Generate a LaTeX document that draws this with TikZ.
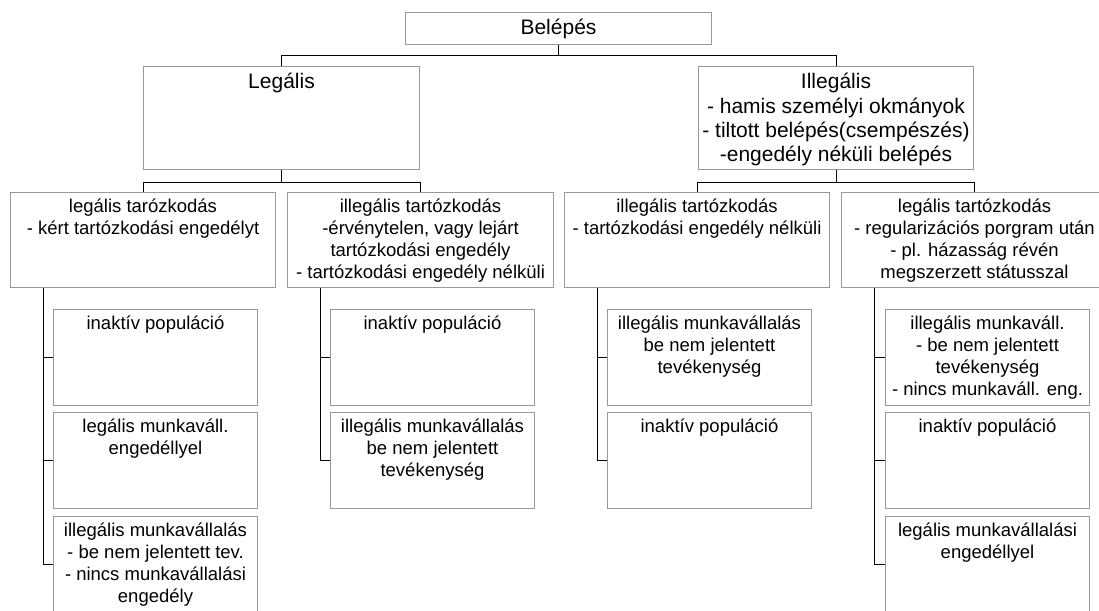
\documentclass[tikz,border=0pt]{standalone}
\usepackage{fontspec}
\setmainfont{Liberation Sans}
\usepackage{tikz}
\definecolor{boxgray}{rgb}{0.6, 0.6, 0.6}

\begin{document}
\begin{tikzpicture}[x=1pt, y=-1pt,
		box/.style={draw=boxgray, line width=1pt, anchor=north west, inner sep=0pt},
		big/.style={font=\fontsize{21}{24.4}\selectfont},
		txt/.style={anchor=north, align=center, inner sep=7pt, font=\fontsize{18.5}{21.8}\selectfont},
		bigtxt/.style={txt, inner sep=7pt, big},
		link/.style={black, line width=1pt}]
		\useasboundingbox (0,0) rectangle (1099,610);
		\clip (0,0) rectangle (1099,610);
		% level 1 and 2
		\node[box, big, minimum width=306pt, minimum height=32pt] (belepes) at (405,12) {Belépés};
		\node[box, minimum width=276pt, minimum height=103pt, label={[bigtxt]north:{Legális}}] (legalis) at (143,66) {};
		\node[box, minimum width=275pt, minimum height=103pt, label={[bigtxt]north:{Illegális\\- hamis személyi okmányok\\- tiltott belépés(csempészés)\\-engedély néküli belépés}}] (illegalis) at (698,66) {};
		% level 3
		\node[box, minimum width=265pt, minimum height=95pt, label={[txt]north:{legális tarózkodás\\- kért tartózkodási engedélyt}}] (ltart1) at (10,192) {};
		\node[box, minimum width=266pt, minimum height=95pt, label={[txt]north:{illegális tartózkodás\\-érvénytelen, vagy lejárt\\tartózkodási engedély\\- tartózkodási engedély nélküli}}] (itart1) at (287,192) {};
		\node[box, minimum width=265pt, minimum height=95pt, label={[txt]north:{illegális tartózkodás\\- tartózkodási engedély nélküli}}] (itart2) at (564,192) {};
		\node[box, minimum width=266pt, minimum height=95pt, label={[txt]north:{legális tartózkodás\\- regularizációs porgram után\\- pl. házasság révén\\megszerzett státusszal}}] (ltart2) at (841,192) {};
		% level 4
		\tikzset{small/.style={box, minimum width=204pt, minimum height=96pt}}
		\node[small, label={[txt]north:{inaktív populáció}}] (ltart1a) at (53,309) {};
		\node[small, label={[txt]north:{legális munkaváll.\\engedéllyel}}] (ltart1b) at (53,412) {};
		\node[small, label={[txt]north:{illegális munkavállalás\\- be nem jelentett tev.\\- nincs munkavállalási\\engedély}}] (ltart1c) at (53,516) {};
		\node[small, label={[txt]north:{inaktív populáció}}] (itart1a) at (330,309) {};
		\node[small, label={[txt]north:{illegális munkavállalás\\be nem jelentett\\tevékenység}}] (itart1b) at (330,412) {};
		\node[small, label={[txt]north:{illegális munkavállalás\\be nem jelentett\\tevékenység}}] (itart2a) at (607,309) {};
		\node[small, label={[txt]north:{inaktív populáció}}] (itart2b) at (607,412) {};
		\node[small, label={[txt]north:{illegális munkaváll.\\- be nem jelentett\\tevékenység\\- nincs munkaváll. eng.}}] (ltart2a) at (885,309) {};
		\node[small, label={[txt]north:{inaktív populáció}}] (ltart2b) at (885,412) {};
		\node[small, label={[txt]north:{legális munkavállalási\\engedéllyel}}] (ltart2c) at (885,516) {};
		% tree lines
		\draw[link] (belepes.south) -- ++(0,11) -| (legalis.north);
		\draw[link] (belepes.south) -- ++(0,11) -| (illegalis.north);
		\foreach \p/\c in {legalis/ltart1, legalis/itart1, illegalis/itart2, illegalis/ltart2}{
			\draw[link] (\p.south) -- ++(0,12) -| (\c.north);
		}
		% side lines
		\foreach \p/\c in {ltart1/ltart1a, ltart1/ltart1b, ltart1/ltart1c, itart1/itart1a, itart1/itart1b,
			itart2/itart2a, itart2/itart2b, ltart2/ltart2a, ltart2/ltart2b, ltart2/ltart2c}{
			\draw[link] ([xshift=33pt]\p.south west) |- (\c.west);
		}
	\end{tikzpicture}
\end{document}
